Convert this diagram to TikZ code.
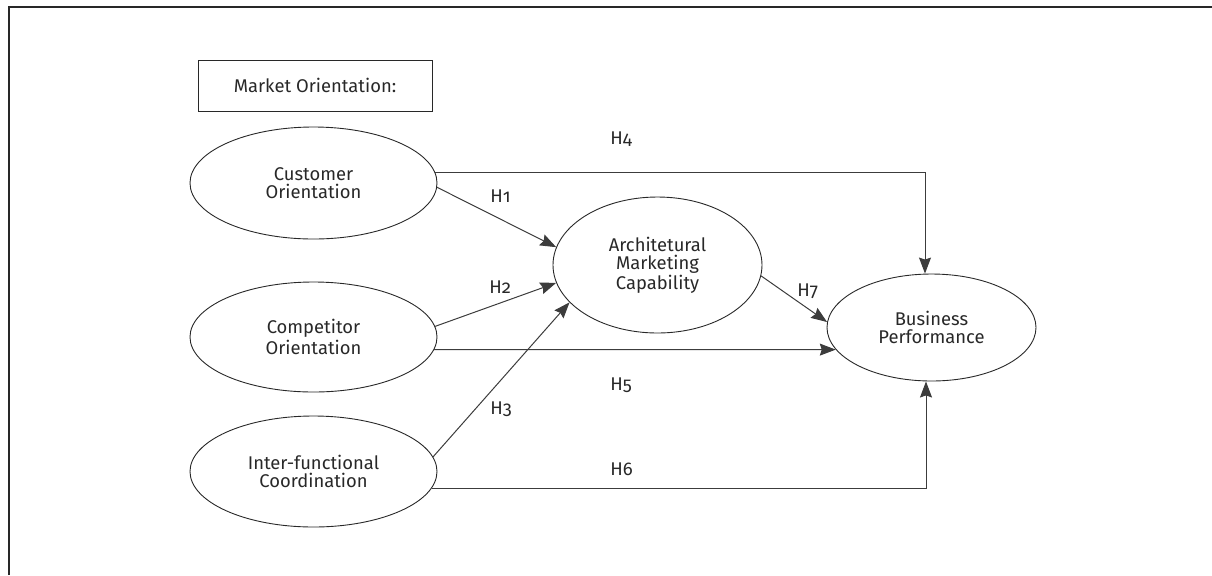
\documentclass[tikz,border=0pt]{standalone}
\usepackage{fontspec}
\setmainfont{Fira Sans}[Numbers=OldStyle]
\usetikzlibrary{shapes.geometric, arrows.meta}
\definecolor{inkgray}{RGB}{40,40,40}
\definecolor{linegray}{RGB}{60,60,60}

\tikzset{
  construct/.style={ellipse, draw=inkgray, line width=0.45pt, inner sep=0pt, align=center, text=inkgray, font=\fontsize{9.2}{9}\selectfont},
  hyp/.style={-{Stealth[length=8pt,width=6pt,inset=1pt]}, draw=linegray, line width=0.5pt},
  hlabel/.style={anchor=base west, inner sep=0pt, text=inkgray, font=\fontsize{9.2}{9}\selectfont}
}

\begin{document}
\begin{tikzpicture}[x=0.5pt,y=0.5pt,yscale=-1]
        \useasboundingbox (0,0) rectangle (1212,575);

        %Shape: Frame
        \draw [inkgray, line width=0.7pt] (9,575) -- (9,7) -- (1212,7) ;

        %Shape: Rectangle
        \node [draw=inkgray, line width=0.45pt, minimum width=117pt, minimum height=25.5pt, inner sep=0pt, text=inkgray, font=\fontsize{9.2}{9}\selectfont] (market) at (315,85.5) {Market Orientation:};

        %Shape: Ellipse
        \node [construct, minimum width=123.5pt, minimum height=56pt] (customer) at (313.5,183) {Customer\\Orientation};
        %Shape: Ellipse
        \node [construct, minimum width=123.5pt, minimum height=55pt] (competitor) at (313.5,337) {Competitor\\Orientation};
        %Shape: Ellipse
        \node [construct, minimum width=123.5pt, minimum height=55.5pt] (interfunc) at (313.5,471.5) {Inter-functional\\Coordination};
        %Shape: Ellipse
        \node [construct, minimum width=104.5pt, minimum height=68pt] (amc) at (657.5,265) {Architetural\\Marketing\\Capability};
        %Shape: Ellipse
        \node [construct, minimum width=104.5pt, minimum height=53.5pt] (perf) at (931.5,327.5) {Business\\Performance};

        %Straight Lines
        \draw [hyp] (customer.-2) -- (amc.170) ;
        \draw [hyp] (competitor.5) -- (amc.190) ;
        \draw [hyp] (interfunc.7) -- (amc.203) ;
        \draw [hyp] (customer.5.5) -| ([xshift=-3.25pt]perf.north) ;
        \draw [hyp] (competitor.-6) -- (perf.193) ;
        \draw [hyp] (interfunc.-8) -| ([xshift=-2.75pt]perf.south) ;
        \draw [hyp] (amc.-6) -- (perf.177) ;

        % Text Node
        \node [hlabel] (h1) at (490,202) {H1};
        % Text Node
        \node [hlabel] (h2) at (489,293) {H2};
        % Text Node
        \node [hlabel] (h3) at (490,414) {H3};
        % Text Node
        \node [hlabel] (h4) at (610,144) {H4};
        % Text Node
        \node [hlabel] (h5) at (610,390) {H5};
        % Text Node
        \node [hlabel] (h6) at (610,475) {H6};
        % Text Node
        \node [hlabel] (h7) at (797,296) {H7};

\end{tikzpicture}
\end{document}
